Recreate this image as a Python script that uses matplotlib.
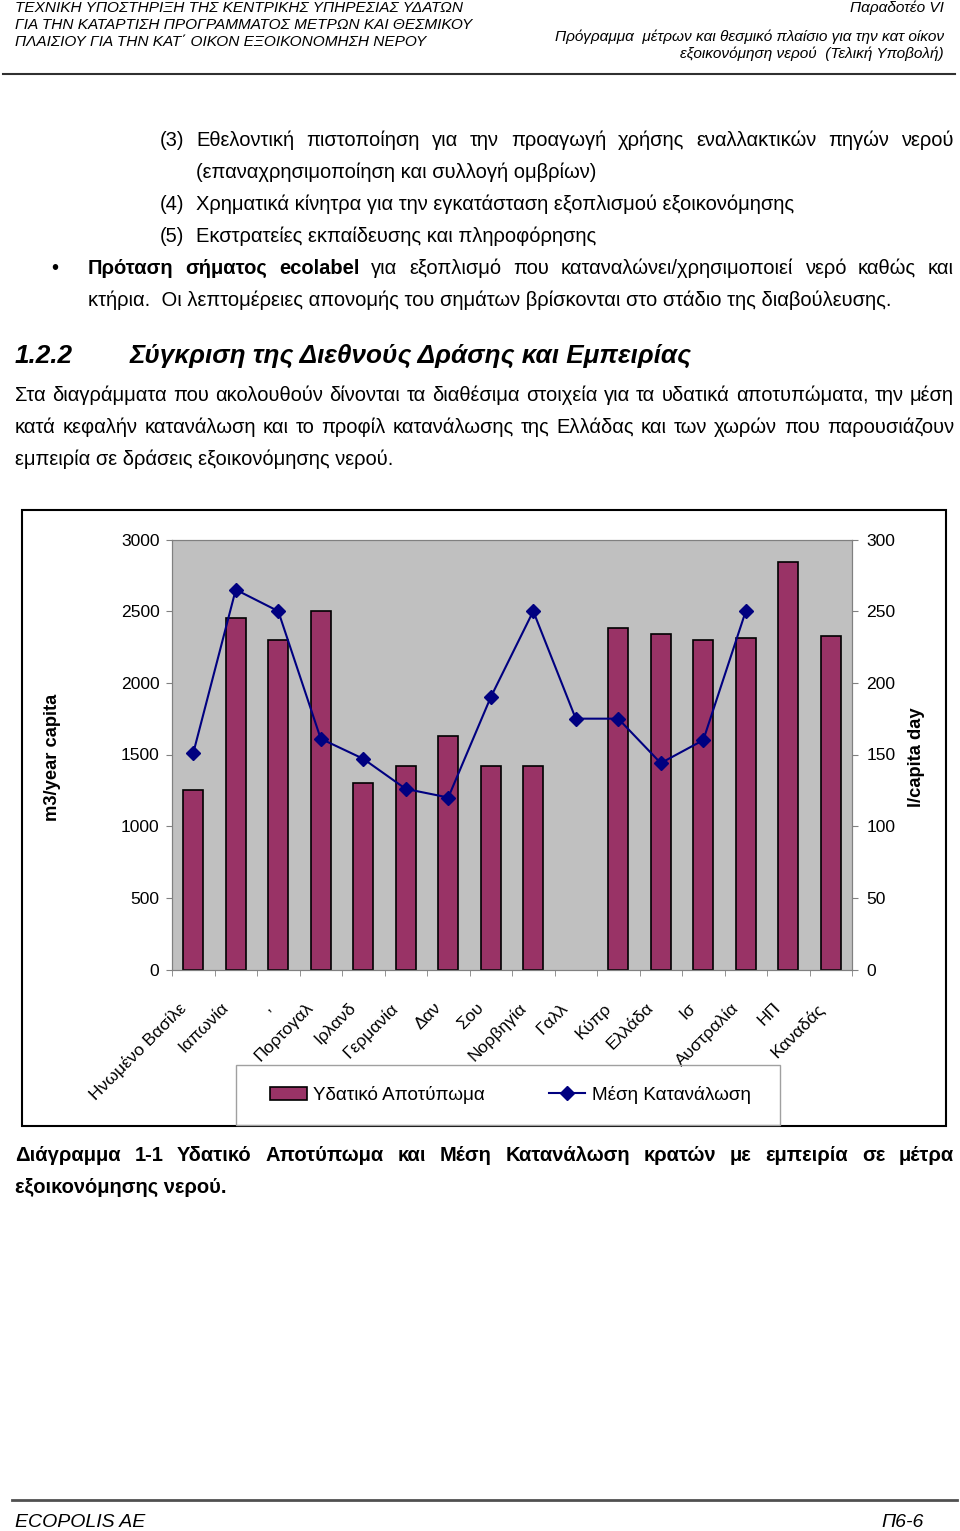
import matplotlib
matplotlib.use("Agg")
import matplotlib.pyplot as plt
import numpy as np
from matplotlib.patches import Rectangle
from matplotlib.lines import Line2D
from matplotlib.transforms import ScaledTranslation

# chart data
countries = ['Ηνωμένο Βασίλε', 'Ιαπωνία', ',', 'Πορτογαλ', 'Ιρλανδ', 'Γερμανία',
             'Δαν', 'Σου', 'Νορβηγία', 'Γαλλ', 'Κύπρ', 'Ελλάδα', 'Ισ',
             'Αυστραλία', 'ΗΠ', 'Καναδάς']
footprint = [1250, 2455, 2300, 2500, 1300, 1420, 1630, 1420, 1420, np.nan,
             2380, 2340, 2300, 2310, 2840, 2330]          # m3/year capita
consumption = [151, 265, 250, 161, 147, 126, 120, 190, 250, 175,
               175, 144, 160, 250, np.nan, np.nan]        # l/capita day
left_ticks = [0, 500, 1000, 1500, 2000, 2500, 3000]
right_ticks = [0, 50, 100, 150, 200, 250, 300]

W, H = 960, 1531
BODY = ['Liberation Sans', 'DejaVu Sans']
NARROW = ['Liberation Sans Narrow', 'Liberation Sans', 'DejaVu Sans']
FS = 14.5

fig = plt.figure(figsize=(W / 100, H / 100), dpi=100)
renderer = fig.canvas.get_renderer()


def fx(x):
    return x / W


def fy(y):
    return 1 - y / H


def put(x, y, s, size=FS, family=BODY, **kw):
    return fig.text(fx(x), fy(y), s, va='baseline', fontsize=size, family=family, **kw)


def justify(x0, x1, y, words, size=FS, weight='normal'):
    objs = []
    for w in words:
        wt = weight
        if isinstance(w, tuple):
            w, wt = w
        objs.append(put(x0, y, w, size=size, fontweight=wt))
    widths = [o.get_window_extent(renderer).width for o in objs]
    gap = (x1 - x0 - sum(widths)) / (len(objs) - 1)
    x = x0
    for o, w in zip(objs, widths):
        o.set_x(fx(x))
        x += w + gap


# header
hdr = dict(size=11.1, family=NARROW, fontstyle='italic')
put(15, 12, 'ΤΕΧΝΙΚΗ ΥΠΟΣΤΗΡΙΞΗ ΤΗΣ ΚΕΝΤΡΙΚΗΣ ΥΠΗΡΕΣΙΑΣ ΥΔΑΤΩΝ', **hdr)
put(15, 29, 'ΓΙΑ ΤΗΝ ΚΑΤΑΡΤΙΣΗ ΠΡΟΓΡΑΜΜΑΤΟΣ ΜΕΤΡΩΝ ΚΑΙ ΘΕΣΜΙΚΟΥ', **hdr)
put(15, 46, 'ΠΛΑΙΣΙΟΥ ΓΙΑ ΤΗΝ ΚΑΤ΄ ΟΙΚΟΝ ΕΞΟΙΚΟΝΟΜΗΣΗ ΝΕΡΟΥ', **hdr)
put(944, 12, 'Παραδοτέο VI', ha='right', **hdr)
put(944, 41, 'Πρόγραμμα  μέτρων και θεσμικό πλαίσιο για την κατ οίκον', ha='right', **hdr)
put(944, 58, 'εξοικονόμηση νερού  (Τελική Υποβολή)', ha='right', **hdr)
fig.add_artist(Line2D([fx(3), fx(955)], [fy(74), fy(74)], color='#303030', lw=1.5))

# list items
put(160, 146, '(3)')
justify(196, 954, 146, 'Εθελοντική πιστοποίηση για την προαγωγή χρήσης εναλλακτικών πηγών νερού'.split())
put(196, 178, '(επαναχρησιμοποίηση και συλλογή ομβρίων)')
put(160, 210, '(4)')
put(196, 210, 'Χρηματικά κίνητρα για την εγκατάσταση εξοπλισμού εξοικονόμησης')
put(160, 242, '(5)')
put(196, 242, 'Εκστρατείες εκπαίδευσης και πληροφόρησης')
put(51, 274, '•')
bullet = [(w, 'bold') for w in ['Πρόταση', 'σήματος', 'ecolabel']]
bullet += 'για εξοπλισμό που καταναλώνει/χρησιμοποιεί νερό καθώς και'.split()
justify(88, 954, 274, bullet)
put(88, 306, 'κτήρια.  Οι λεπτομέρειες απονομής του σημάτων βρίσκονται στο στάδιο της διαβούλευσης.')

# section heading + paragraph
put(15, 363, '1.2.2', size=18.8, fontweight='bold', fontstyle='italic')
put(130, 363, 'Σύγκριση της Διεθνούς Δράσης και Εμπειρίας', size=18.8,
    fontweight='bold', fontstyle='italic')
justify(15, 954, 401, 'Στα διαγράμματα που ακολουθούν δίνονται τα διαθέσιμα στοιχεία για τα '
        'υδατικά αποτυπώματα, την μέση'.split())
justify(15, 954, 433, 'κατά κεφαλήν κατανάλωση και το προφίλ κατανάλωσης της Ελλάδας και '
        'των χωρών που παρουσιάζουν'.split())
put(15, 465, 'εμπειρία σε δράσεις εξοικονόμησης νερού.')

# chart frame + legend frame
fig.add_artist(Rectangle((fx(22), fy(1126)), (946 - 22) / W, (1126 - 510) / H,
                         transform=fig.transFigure, fill=False, ec='black', lw=1.5))
fig.add_artist(Rectangle((fx(236), fy(1125)), (780 - 236) / W, (1125 - 1065) / H,
                         transform=fig.transFigure, fill=False, ec='#a0a0a0', lw=1))

ax = fig.add_axes([fx(172), fy(969.5), (852 - 172) / W, (969.5 - 539.5) / H])
ax.set_facecolor('#C0C0C0')
x = np.arange(len(countries))
bars = ax.bar(x, footprint, width=0.46, color='#993366', edgecolor='black', lw=1.2,
              label='Υδατικό Αποτύπωμα')
ax.set_xlim(-0.5, len(countries) - 0.5)
ax.set_ylim(0, 3000)
ax.set_yticks(left_ticks)
ax.set_xticks(x)
ax.set_xticklabels(countries, rotation=45, ha='right', rotation_mode='anchor',
                   fontsize=12.6, family=BODY)
ax.set_xticks(np.arange(-0.5, len(countries)), minor=True)
ax.tick_params(axis='x', which='major', length=0, pad=22)
ax.tick_params(axis='x', which='minor', length=4, color='#808080', direction='out')
ax.tick_params(axis='y', length=4, color='#808080', direction='out', pad=5, labelsize=12.6)
for lab in ax.get_xticklabels():
    lab.set_transform(lab.get_transform() + ScaledTranslation(-0.15, 0, fig.dpi_scale_trans))

ax2 = ax.twinx()
line, = ax2.plot(x, consumption, color='#000080', lw=1.5, marker='D', markersize=7,
                 label='Μέση Κατανάλωση')
ax2.set_ylim(0, 300)
ax2.set_yticks(right_ticks)
ax2.tick_params(axis='y', length=4, color='#808080', direction='out', pad=6.5, labelsize=12.6)
for a in (ax, ax2):
    for sp in a.spines.values():
        sp.set_color('#808080')
for t in ax.get_yticklabels() + ax2.get_yticklabels():
    t.set_family(BODY)

put(57, 757, 'm3/year capita', size=13.2, fontweight='bold', rotation=90,
    ha='center', rotation_mode='anchor')
put(921, 757, 'l/capita day', size=13.2, fontweight='bold', rotation=90,
    ha='center', rotation_mode='anchor')

ax.legend([bars, line], ['Υδατικό Αποτύπωμα', 'Μέση Κατανάλωση'], loc='center',
          bbox_to_anchor=(fx(270), fy(1125), (751 - 270) / W, (1125 - 1065) / H),
          bbox_transform=fig.transFigure, ncol=2, mode='expand', borderaxespad=0,
          borderpad=0, frameon=False, prop={'family': BODY, 'size': 13.6},
          handlelength=1.95, handletextpad=0.35)

# caption
justify(15, 954, 1161, 'Διάγραμμα 1-1 Υδατικό Αποτύπωμα και Μέση Κατανάλωση κρατών με '
        'εμπειρία σε μέτρα'.split(), weight='bold')
put(15, 1193, 'εξοικονόμησης νερού.', fontweight='bold')

# footer
fig.add_artist(Line2D([fx(12), fx(957)], [fy(1500), fy(1500)], color='#505050', lw=2))
put(15, 1527, 'ECOPOLIS AE', size=14, family=NARROW, fontstyle='italic')
put(924, 1527, 'Π6-6', size=14, family=NARROW, fontstyle='italic', ha='right')

fig.savefig('out.png', dpi=100)
